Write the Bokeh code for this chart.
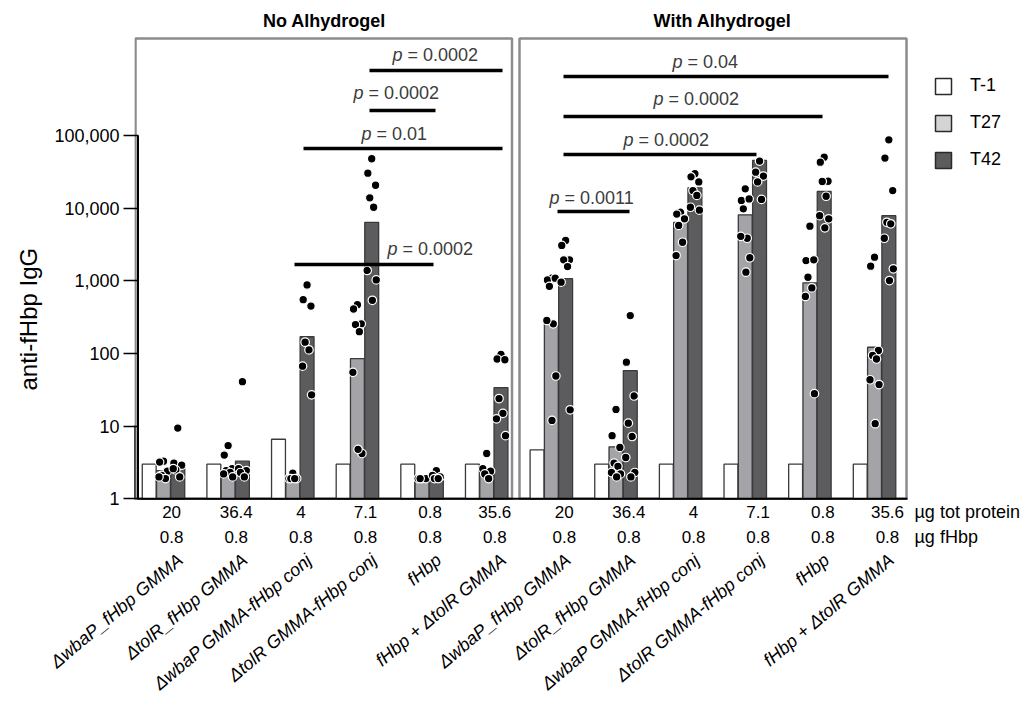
import numpy as np
from bokeh.plotting import figure
from bokeh.models import (Range1d, FixedTicker, NumeralTickFormatter, Legend, LegendItem,
                          Title, LinearAxis)
from bokeh.core.properties import value
from bokeh.embed import file_html
from bokeh.resources import INLINE

# ---------------- data ----------------
panels = ["No Alhydrogel", "With Alhydrogel"]
series = ["T-1", "T27", "T42"]
categories = ["ΔwbaP_fHbp GMMA", "ΔtolR_fHbp GMMA", "ΔwbaP GMMA-fHbp conj",
              "ΔtolR GMMA-fHbp conj", "fHbp", "fHbp + ΔtolR GMMA"] * 2
tot_protein = ["20", "36.4", "4", "7.1", "0.8", "35.6"] * 2
fhbp_dose = ["0.8"] * 12

t1_gmt = [3, 3, 6.6, 3, 3, 3, 4.7, 3, 3, 3, 3, 3]
t27_gmt = [2.45, 2.4, 1.8, 85, 1.7, 2.3, 260, 5.2, 6400, 8100, 940, 122]
t42_gmt = [2.7, 3.3, 170, 6400, 1.8, 34, 1070, 58, 19100, 45400, 17000, 7900]

t27_points = [
    [3.3, 3.2, 2.4, 2.1, 1.9, 2.0],
    [5.4, 4.0, 2.6, 2.45, 2.3, 2.2, 2.0],
    [2.25, 1.9, 1.9, 1.9, 1.9],
    [470, 410, 256, 250, 200, 55, 4.2, 4.8],
    [1.9, 1.9, 1.9, 1.9],
    [4.2, 2.6, 2.4, 2.2, 1.9],
    [1090, 1030, 1090, 840, 256, 285, 49, 12],
    [17, 7.4, 5.1, 3.1, 2.8, 2.3, 2.2, 2.0],
    [8800, 8300, 7150, 5800, 3400, 2230],
    [18500, 12800, 13400, 9800, 3860, 4100, 2080, 1315],
    [5650, 1900, 1950, 1120, 800, 610, 28],
    [2120, 1590, 110, 94, 84, 43.5, 37.4, 10.8],
]
t42_points = [
    [9.4, 3.1, 2.9, 2.5, 2.0, 2.6],
    [41, 2.6, 2.45, 2.3, 2.0],
    [880, 550, 450, 143, 112, 67, 27],
    [47900, 30300, 20700, 13900, 10300, 1390, 1030, 540],
    [2.45, 2.1, 2.0, 1.9, 1.9],
    [97, 84, 82, 24, 15, 12.6, 7.4],
    [3590, 3070, 1950, 1950, 1570, 960, 16.8],
    [333, 76, 26, 11, 7.2, 3.7, 2.3, 2.0],
    [29800, 27000, 23000, 17500, 15000, 10300, 9400],
    [44600, 31300, 27700, 23000, 13200],
    [50300, 43000, 23500, 23300, 14600, 7900, 7150, 5370],
    [87400, 48900, 17500, 6400, 6100, 3860, 1465, 1010],
]

p_labels = ["= 0.0002", "= 0.0002", "= 0.01", "= 0.0002",
            "= 0.04", "= 0.0002", "= 0.0002", "= 0.0011"]

# ---------------- layout helpers (canvas pixels -> data) ----------------
W, H = 1028, 708
PX_GROUP, X0_PX = 64.64, 163.0
PX_DEC, Y1_PX = 72.65, 498.3
FRAME_LEFT = 134
FRAME_BOTTOM = 547


def lx(px):
    return (px - X0_PX) / PX_GROUP


def ly(py):
    return 10 ** ((Y1_PX - py) / PX_DEC)


FONT = value("Liberation Sans")
n = len(categories)
idx = np.arange(n)
BW = 0.215
OFF = 0.221

p = figure(width=W, height=H, y_axis_type="log", x_axis_location=None,
           x_range=Range1d(lx(FRAME_LEFT), lx(W)),
           y_range=Range1d(ly(FRAME_BOTTOM), ly(0)),
           min_border_left=FRAME_LEFT, min_border_right=0, min_border_top=0,
           min_border_bottom=H - FRAME_BOTTOM, output_backend="svg", toolbar_location=None)
p.outline_line_color = None
p.xgrid.visible = False
p.ygrid.visible = False

ax = p.yaxis[0]
ax.bounds = (1, 100000)
ax.ticker = FixedTicker(ticks=[1, 10, 100, 1000, 10000, 100000])
ax.formatter = NumeralTickFormatter(format="0,0")
ax.minor_tick_line_color = None
ax.axis_line_color = None
ax.major_tick_out = 11
ax.major_tick_in = 4
ax.major_tick_line_width = 1.5
ax.major_tick_line_color = "black"
ax.major_label_text_font = "Liberation Sans"
ax.major_label_text_font_size = "18px"
ax.major_label_text_color = "black"
ax.major_label_standoff = 4

# y-axis title, centred on the axis span (1 .. 100,000)
ytitle = Title(text="anti-fHbp IgG", align="left", offset=FRAME_BOTTOM - 390, standoff=20,
               text_font="Liberation Sans", text_font_size="24px",
               text_font_style="normal", text_color="black")
p.add_layout(ytitle, "left")

# category axis below (rotated labels)
cat_ticks = [float(g) + 0.26 for g in range(n)]
xax = LinearAxis(ticker=FixedTicker(ticks=cat_ticks, minor_ticks=[]),
                 major_label_overrides={t: c for t, c in zip(cat_ticks, categories)},
                 major_label_orientation=np.radians(40))
xax.axis_line_color = None
xax.major_tick_line_color = None
xax.minor_tick_line_color = None
xax.major_tick_out = 0
xax.major_tick_in = 0
xax.major_label_standoff = 10
xax.major_label_text_font = "Liberation Sans"
xax.major_label_text_font_size = "18px"
xax.major_label_text_font_style = "italic"
xax.major_label_text_color = "black"
p.add_layout(xax, "below")

# panel boxes
p.quad(left=[lx(135), lx(519)], right=[lx(511.5), lx(906)], bottom=[1, 1],
       top=[ly(38), ly(38)], fill_color=None, line_color="#8c8c8c", line_width=2.5)

# bars
bar_line = "#3a3a3a"
p.vbar(x=idx - OFF, top=t1_gmt, bottom=1, width=BW, fill_color="white",
       line_color=bar_line, line_width=1.3)
p.vbar(x=idx, top=t27_gmt, bottom=1, width=BW, fill_color="#a3a3a8",
       line_color=bar_line, line_width=1.3)
p.vbar(x=idx + OFF, top=t42_gmt, bottom=1, width=BW, fill_color="#5c5c5e",
       line_color=bar_line, line_width=1.3)

# individual points
jit = [0.0, -0.06, 0.06, -0.03, 0.03, -0.07, 0.07, 0.01]
px_, py_ = [], []
for g in range(n):
    for j, v in enumerate(t27_points[g]):
        px_.append(g + jit[j % len(jit)])
        py_.append(v)
    for j, v in enumerate(t42_points[g]):
        px_.append(g + OFF + jit[j % len(jit)])
        py_.append(v)
p.scatter(x=px_, y=py_, size=8.5, fill_color="black", line_color="white", line_width=1.2)

# axis line and baseline
p.segment(x0=[lx(137.5)], x1=[lx(137.5)], y0=[1], y1=[100000], line_color="black", line_width=2)
p.segment(x0=[lx(137)], x1=[lx(907)], y0=[1], y1=[1], line_color="black", line_width=2)

# significance brackets
br_x0 = [369, 369, 303, 294, 563, 563, 563, 557]
br_x1 = [502, 435, 502, 433, 888, 822, 756, 629]
br_y = [70, 110, 148, 264, 76, 116, 154, 211]
tx_left = [392, 353, 361, 387, 672, 653, 623, 549]
tx_y = [54, 92, 133, 248, 61, 98, 139, 197]
p.segment(x0=[lx(v) for v in br_x0], x1=[lx(v) for v in br_x1],
          y0=[ly(v) for v in br_y], y1=[ly(v) for v in br_y],
          line_color="black", line_width=3.5)
p.text(x=[lx(v) for v in tx_left], y=[ly(v) for v in tx_y], text=["p"] * len(p_labels),
       text_font=FONT, text_font_size="18px", text_font_style="italic",
       text_color="#3c3c3c", text_align="left", text_baseline="middle")
p.text(x=[lx(v) for v in tx_left], y=[ly(v) for v in tx_y], text=p_labels, x_offset=15,
       text_font=FONT, text_font_size="18px", text_color="#3c3c3c",
       text_align="left", text_baseline="middle")

# panel titles
p.text(x=[lx(324), lx(722)], y=[ly(20), ly(20)], text=panels, text_font=FONT,
       text_font_size="18px", text_font_style="bold", text_color="black",
       text_align="center", text_baseline="middle")

# dose rows
num_x = [g + (0.125 if g < 6 else 0.2) for g in range(n)]
p.text(x=num_x, y=[ly(511)] * n, text=tot_protein, text_font=FONT, text_font_size="17px",
       text_color="black", text_align="center", text_baseline="middle")
p.text(x=num_x, y=[ly(536)] * n, text=fhbp_dose, text_font=FONT, text_font_size="17px",
       text_color="black", text_align="center", text_baseline="middle")
p.text(x=[lx(914), lx(914)], y=[ly(511), ly(536)], text=["µg tot protein", "µg fHbp"],
       text_font=FONT, text_font_size="18px", text_color="black",
       text_align="left", text_baseline="middle")

# legend
leg_cols = ["white", "#d4d4d4", "#5c5c5e"]
items = []
for name, col in zip(series, leg_cols):
    r = p.vbar(x=[lx(-400)], top=[10], bottom=1, width=0.2, fill_color=col,
               line_color="#2a2a2a", line_width=1.5)
    items.append(LegendItem(label=name, renderers=[r]))
legend = Legend(items=items, location=(933 - FRAME_LEFT, FRAME_BOTTOM - 170),
                orientation="vertical",
                glyph_width=20, glyph_height=20, label_height=20, spacing=16,
                padding=0, margin=0, border_line_color=None, background_fill_alpha=0,
                label_text_font="Liberation Sans", label_text_font_size="18px",
                label_standoff=17, label_text_color="black")
p.add_layout(legend)

open("out.html", "w").write(file_html(p, INLINE))
